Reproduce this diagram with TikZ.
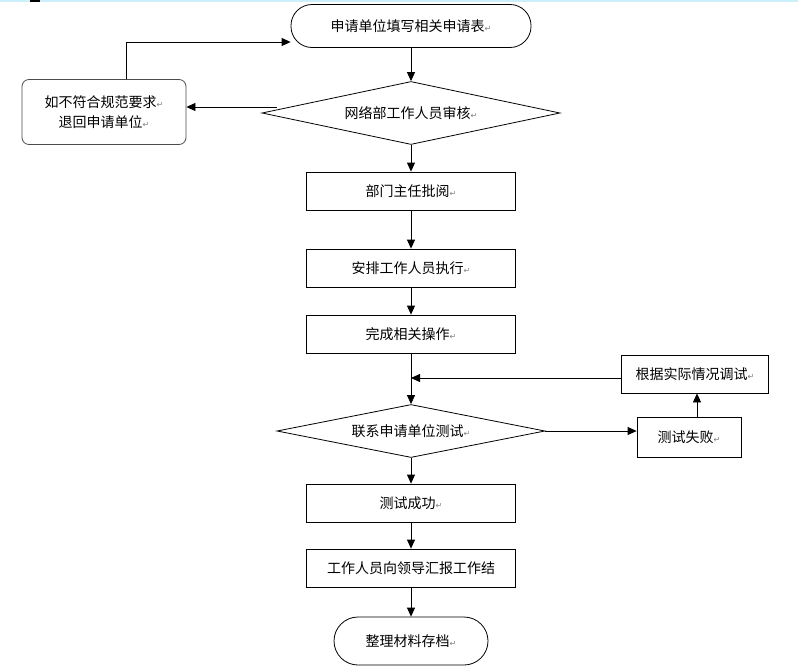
\documentclass[tikz,border=0pt]{standalone}
\usepackage{fontspec}
\setmainfont{Noto Sans CJK SC}
\newfontfamily\dv{DejaVu Sans}
\usetikzlibrary{shapes.geometric,arrows.meta}
\newcommand{\rt}{{\dv\fontsize{8}{8}\selectfont\color{gray}↵}}
\begin{document}
\begin{tikzpicture}[x=1pt,y=-1pt,
  txt/.style={font=\fontsize{14}{20}\selectfont},
  box/.style={draw,txt,minimum width=209pt,minimum height=38pt,inner sep=0pt,line width=0.8pt},
  term/.style={draw,txt,rounded corners=21pt,minimum height=43pt,inner sep=0pt,line width=0.8pt},
  dia/.style={draw,txt,diamond,aspect=4.7,inner sep=0pt,line width=0.8pt},
  arr/.style={draw,line width=0.8pt,-{Triangle[length=9pt,width=8pt]}}]
\useasboundingbox (0,0) rectangle (798,672);
\fill[white] (0,0) rectangle (798,672);
\draw[cyan!20,line width=2pt] (0,1) -- (798,1);
\draw[line width=2pt] (30,1) -- (40,1);
\node[term,minimum width=240pt] (s) at (411,26) {申请单位填写相关申请表\rt};
\node[dia,minimum width=298pt,minimum height=63pt] (d1) at (411,113) {网络部工作人员审核\rt};
\node[draw=black!70,txt,rounded corners=7pt,minimum width=164pt,minimum height=65pt,align=center,line width=0.8pt] (r) at (104,112) {如不符合规范要求\rt\\退回申请单位\rt};
\node[box] (b1) at (411,191) {部门主任批阅\rt};
\node[box] (b2) at (411,268) {安排工作人员执行\rt};
\node[box] (b3) at (411,334) {完成相关操作\rt};
\node[dia,minimum width=268pt,minimum height=53pt] (d2) at (411,431) {联系申请单位测试\rt};
\node[draw,txt,minimum width=104pt,minimum height=40pt,line width=0.8pt] (f) at (689,437) {测试失败\rt};
\node[draw,txt,minimum width=147pt,minimum height=38pt,line width=0.8pt] (a) at (695,374) {根据实际情况调试\rt};
\node[box] (b4) at (411,503) {测试成功\rt};
\node[box] (b5) at (411,568) {工作人员向领导汇报工作结};
\node[term,minimum width=154pt,minimum height=48pt,rounded corners=24pt] (e) at (411,641) {整理材料存档\rt};
\coordinate (m) at (411,378);
\path[arr] (s) -- (d1);
\path[arr] (277,107) -- (r.east |- 0,107);
\path[arr] (r.north -| 126,0) -- (126,42) -- (s.west |- 0,42);
\path[arr] (d1) -- (b1);
\path[arr] (b1) -- (b2);
\path[arr] (b2) -- (b3);
\path[arr] (b3) -- (d2);
\path[arr] (d2.east) -- (f.west |- d2.east);
\path[arr] (f.north -| 697,0) -- (a.south -| 697,0);
\path[arr] (a.west |- m) -- (m);
\path[arr] (d2) -- (b4);
\path[arr] (b4) -- (b5);
\path[arr] (b5) -- (e);
\end{tikzpicture}
\end{document}
